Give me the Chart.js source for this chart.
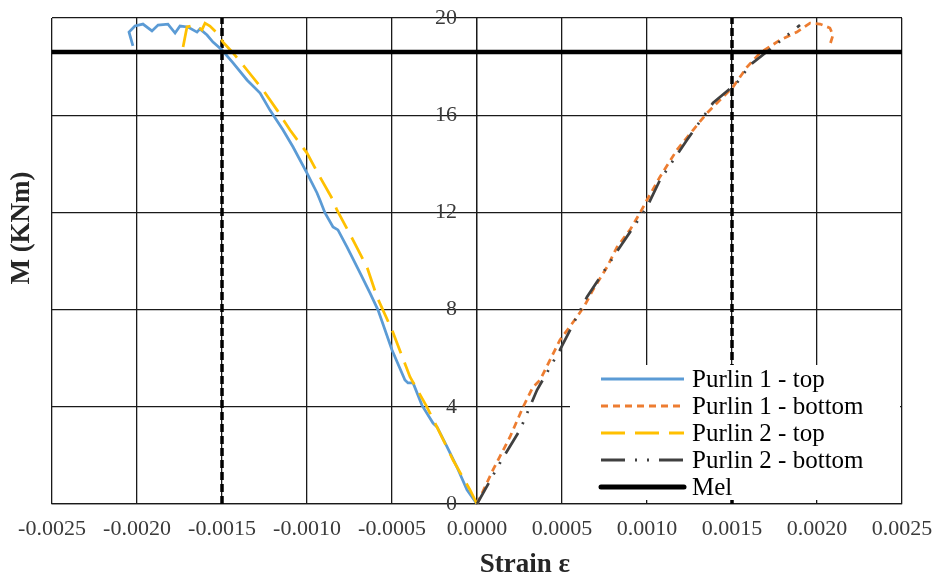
<!DOCTYPE html>
<html>
<head>
<meta charset="utf-8">
<script src="https://cdn.jsdelivr.net/npm/chart.js@4.4.1/dist/chart.umd.min.js"></script>
<style>
  html, body { margin: 0; padding: 0; background: #fff; }
</style>
</head>
<body>
<canvas id="chart" width="938" height="583"></canvas>
<script>
// Values (strain, moment in kNm)

const seriesNames = ['Purlin 1 - top', 'Purlin 1 - bottom', 'Purlin 2 - top', 'Purlin 2 - bottom', 'Mel'];

const p1TopStrain = [-0.002024, -0.002047, -0.002012, -0.001965, -0.001912, -0.001876, -0.001818, -0.001776,
    -0.001747, -0.0017, -0.001647, -0.00163, -0.001588, -0.001553, -0.0015, -0.001435, -0.001353, -0.001276,
    -0.001218, -0.001141, -0.001082, -0.001, -0.000941, -0.000924, -0.000894, -0.000847, -0.000818, -0.000765,
    -0.000688, -0.000629, -0.000582, -0.0005, -0.000424, -0.000406, -0.000376, -0.000324, -0.000259, -0.000235,
    -0.000176, -0.000118, -0.000059, 0];
const p1TopMoment = [18.85, 19.42, 19.67, 19.75, 19.47, 19.71, 19.75, 19.38,
    19.67, 19.63, 19.42, 19.55, 19.3, 19.01, 18.68, 18.15, 17.45, 16.91,
    16.21, 15.39, 14.69, 13.62, 12.8, 12.51, 11.98, 11.4, 11.28, 10.58,
    9.51, 8.68, 7.98, 6.34, 5.10, 4.98, 4.98, 4.07, 3.33, 3.17,
    2.35, 1.52, 0.58, 0];

const p1BottomStrain = [0, 0.000094, 0.000194, 0.000271, 0.000329, 0.000371, 0.000488, 0.000588, 0.000635,
    0.000682, 0.000765, 0.000824, 0.0009, 0.000959, 0.001, 0.001076, 0.001176, 0.001271, 0.001353, 0.001447,
    0.001506, 0.001588, 0.001665, 0.001782, 0.001882, 0.001959, 0.002018, 0.002076, 0.002094, 0.002076];
const p1BottomMoment = [0, 1.40, 2.76, 3.99, 4.81, 5.10, 6.75, 7.70, 8.19,
    8.81, 9.75, 10.58, 11.28, 11.98, 12.51, 13.46, 14.57, 15.39, 16.09, 16.75,
    17.16, 17.98, 18.56, 19.09, 19.42, 19.79, 19.75, 19.59, 19.30, 18.89];

const p2TopStrain = [-0.001729, -0.001706, -0.001659, -0.001618, -0.0016, -0.001571, -0.001529, -0.001494,
    -0.001435, -0.001353, -0.001259, -0.001176, -0.0011, -0.001, -0.000924, -0.000847, -0.000824, -0.000729,
    -0.000647, -0.000588, -0.0005, -0.000394, -0.000294, -0.000218, -0.000141, -0.000041, 0];
const p2TopMoment = [18.81, 19.63, 19.71, 19.51, 19.79, 19.67, 19.38, 19.01,
    18.56, 17.86, 17.04, 16.21, 15.39, 14.44, 13.46, 12.51, 12.1, 10.86,
    9.75, 8.52, 7.16, 5.23, 3.99, 2.92, 1.81, 0.58, 0];

const p2BottomStrain = [0, 0.000135, 0.000253, 0.000353, 0.000488, 0.000647, 0.000841, 0.001, 0.001076,
    0.001235, 0.001388, 0.001529, 0.001606, 0.001741, 0.0019];
const p2BottomMoment = [0, 1.69, 3.05, 4.69, 6.34, 8.52, 10.58, 12.22, 13.33,
    14.98, 16.50, 17.33, 18.07, 18.81, 19.71];

const melMoment = 18.6;
const limitStrains = [-0.0015, 0.0015];

const strainTicks = [-0.0025, -0.0020, -0.0015, -0.0010, -0.0005, 0, 0.0005, 0.0010, 0.0015, 0.0020, 0.0025];
const momentTicks = [0, 4, 8, 12, 16, 20];

const serif = "'Times New Roman', 'Liberation Serif', serif";

function toPoints(xs, ys) {
    var pts = [];
    for (let i = 0; i < xs.length; i++) {
        pts.push({x: xs[i], y: ys[i]});
    }
    return pts;
}

function lineSet(label, data, color, width, dash, order, inLegend) {
    return {
        label: label,
        data: data,
        borderColor: color,
        backgroundColor: color,
        borderWidth: width,
        borderDash: dash,
        showLine: true,
        pointRadius: 0,
        pointHoverRadius: 0,
        tension: 0,
        fill: false,
        order: order,
        inLegend: inLegend
    };
}

const xMin = strainTicks[0];
const xMax = strainTicks[strainTicks.length - 1];
const yMin = momentTicks[0];
const yMax = momentTicks[momentTicks.length - 1];

const datasets = [
    lineSet(seriesNames[0], toPoints(p1TopStrain, p1TopMoment), '#5B9BD5', 2.75, [], 3, true),
    lineSet(seriesNames[1], toPoints(p1BottomStrain, p1BottomMoment), '#ED7D31', 2.75, [7, 5], 4, true),
    lineSet(seriesNames[2], toPoints(p2TopStrain, p2TopMoment), '#FFC000', 2.75, [24, 10], 2, true),
    lineSet(seriesNames[3], toPoints(p2BottomStrain, p2BottomMoment), '#404040', 2.75, [24, 10, 2, 10, 2, 10], 1, true),
    lineSet(seriesNames[4], [{x: xMin, y: melMoment}, {x: xMax, y: melMoment}], '#000000', 4.5, [], 0, true)
];
limitStrains.forEach(function (s) {
    datasets.push(lineSet('', [{x: s, y: yMin}, {x: s, y: yMax}], '#000000', 3.5, [8, 4], 5, false));
});

// legend drawn inside the plot, bottom right, on a white box
const boxLegend = {
    id: 'boxLegend',
    afterDatasetsDraw(chart) {
        const ctx = chart.ctx;
        const area = chart.chartArea;
        const w = 330, h = 135;
        const left = area.right - 2 - w;
        const top = area.bottom - 4 - h;
        ctx.save();
        ctx.fillStyle = '#ffffff';
        ctx.fillRect(left, top, w, h);
        let row = 0;
        chart.data.datasets.forEach(function (ds) {
            if (!ds.inLegend) {
                return;
            }
            const y = top + 14 + row * 27;
            ctx.beginPath();
            ctx.strokeStyle = ds.borderColor;
            ctx.lineWidth = ds.borderWidth > 4 ? 5 : 3;
            ctx.lineCap = ds.borderWidth > 4 ? 'round' : 'butt';
            ctx.setLineDash(ds.borderDash);
            ctx.moveTo(left + 31, y);
            ctx.lineTo(left + 114, y);
            ctx.stroke();
            ctx.setLineDash([]);
            ctx.fillStyle = '#000000';
            ctx.font = '25px ' + serif;
            ctx.textAlign = 'left';
            ctx.textBaseline = 'middle';
            ctx.fillText(ds.label, left + 122, y + 1);
            row++;
        });
        ctx.restore();
    }
};

const axisTitles = {
    id: 'axisTitles',
    afterDraw(chart) {
        const ctx = chart.ctx;
        ctx.save();
        ctx.fillStyle = '#262626';
        ctx.font = 'bold 27px ' + serif;
        ctx.textAlign = 'center';
        ctx.textBaseline = 'middle';
        ctx.fillText('Strain ε', chart.chartArea.left + 473, 565);
        ctx.translate(22, 228);
        ctx.rotate(-Math.PI / 2);
        ctx.fillText('M (KNm)', 0, 0);
        ctx.restore();
    }
};

// the y axis sits at strain 0; leave a gap between its labels and the axis line
const yLabelGap = {
    id: 'yLabelGap',
    beforeDraw(chart) {
        const items = chart.scales.y.getLabelItems();
        items.forEach(function (item) {
            if (!item.shifted) {
                item.options.translation[0] -= 20;
                item.shifted = true;
            }
        });
    }
};

function fmtStrain(v) {
    if (Math.abs(v) < 1e-9) {
        return '0.0000';
    }
    return v.toFixed(4);
}

const gridStyle = { color: '#1a1a1a', lineWidth: 1.3, drawTicks: false };

const ctx = document.getElementById('chart').getContext('2d');
new Chart(ctx, {
    type: 'scatter',
    data: { datasets: datasets },
    options: {
        responsive: false,
        devicePixelRatio: 1,
        animation: false,
        layout: { padding: { left: 52, top: 18, right: 36, bottom: 0 } },
        plugins: {
            legend: { display: false },
            tooltip: { enabled: false }
        },
        scales: {
            x: {
                type: 'linear',
                position: 'bottom',
                min: xMin,
                max: xMax,
                afterBuildTicks: function (axis) {
                    axis.ticks = strainTicks.map(function (v) { return {value: v}; });
                },
                afterFit: function (axis) {
                    axis.height = 79;
                    axis.paddingLeft = 0;
                    axis.paddingRight = 0;
                },
                ticks: {
                    callback: fmtStrain,
                    font: { family: serif, size: 22 },
                    color: '#3a3a3a',
                    padding: 12,
                    maxRotation: 0,
                    autoSkip: false
                },
                grid: gridStyle,
                border: { color: '#1a1a1a', width: 1.3 }
            },
            y: {
                type: 'linear',
                position: { x: 0 },
                min: yMin,
                max: yMax,
                afterBuildTicks: function (axis) {
                    axis.ticks = momentTicks.map(function (v) { return {value: v}; });
                },
                afterFit: function (axis) {
                    axis.paddingTop = 0;
                    axis.paddingBottom = 0;
                },
                ticks: {
                    font: { family: serif, size: 22 },
                    color: '#3a3a3a',
                    padding: 0
                },
                grid: gridStyle,
                border: { color: '#1a1a1a', width: 1.3 }
            }
        }
    },
    plugins: [boxLegend, axisTitles, yLabelGap]
});
</script>
</body>
</html>
